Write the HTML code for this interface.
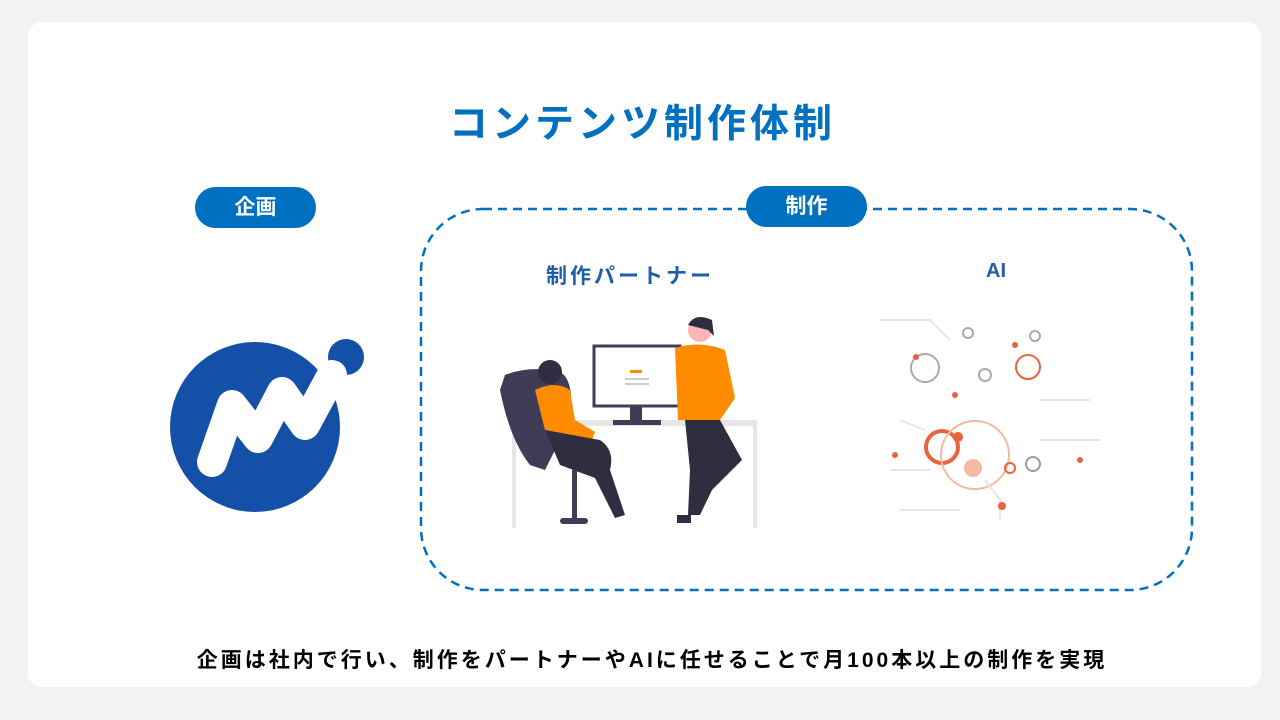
<!DOCTYPE html>
<html><head><meta charset="utf-8"><style>
body{margin:0;width:1280px;height:720px;background:#f2f2f2;font-family:"Liberation Sans","Noto Sans CJK JP",sans-serif;position:relative;overflow:hidden}
.card{position:absolute;left:28px;top:22px;width:1233px;height:665px;background:#fff;border-radius:14px}
.t{position:absolute;white-space:nowrap;font-weight:bold}
.pill{position:absolute;background:#0070c0;color:#fff;border-radius:21px;font-weight:bold;font-size:21px;text-align:center;line-height:41px}
</style></head><body>
<div class="card"></div>
<div class="t" style="left:0;width:1285px;text-align:center;top:93px;font-size:39px;color:#0070c0;letter-spacing:4px">コンテンツ制作体制</div>
<svg style="position:absolute;left:0;top:0" width="1280" height="720">
<rect x="421" y="209" width="771" height="381" rx="62" fill="none" stroke="#0070c0" stroke-width="2.5" stroke-dasharray="9 6"/>
<circle cx="255" cy="427" r="85" fill="#1450a8"/>
<circle cx="346" cy="357" r="18" fill="#1450a8"/>
<path d="M212 462 L232 405 L258 438 L282 392 L305 425 L332 375" fill="none" stroke="#fff" stroke-width="30" stroke-linecap="round" stroke-linejoin="round"/>
<!-- partner illustration -->
<rect x="512" y="420" width="245" height="6" fill="#e6e6e6"/>
<rect x="512" y="420" width="4" height="108" fill="#e6e6e6"/>
<rect x="753" y="420" width="4" height="108" fill="#e6e6e6"/>
<rect x="594" y="346" width="86" height="60" fill="#fff" stroke="#3f3d56" stroke-width="3"/>
<rect x="630" y="370" width="12" height="3" fill="#ff8c00"/>
<rect x="625" y="378" width="24" height="2" fill="#ccc"/><rect x="625" y="383" width="24" height="2" fill="#ccc"/>
<rect x="630" y="406" width="12" height="14" fill="#3f3d56"/><rect x="613" y="420" width="48" height="5" fill="#3f3d56"/>
<path d="M505 375 Q530 365 560 372 Q575 380 570 420 L545 470 L530 465 Q510 440 500 390 Z" fill="#3f3d56"/>
<rect x="572" y="470" width="5" height="48" fill="#3f3d56"/><rect x="560" y="518" width="28" height="6" rx="3" fill="#3f3d56"/>
<path d="M535 390 Q555 380 570 390 L575 420 L595 432 L592 440 L545 430 Z" fill="#ff8c00"/>
<path d="M545 430 L600 440 Q615 450 610 470 L625 515 L615 518 L595 478 L560 465 Z" fill="#2f2e41"/>
<circle cx="550" cy="372" r="12" fill="#2f2e41"/>
<path d="M675 348 Q700 340 725 350 L735 398 L720 420 L678 420 Z" fill="#ff8c00"/>
<path d="M685 420 L720 420 L742 460 L712 490 L700 515 L688 515 L690 470 Z" fill="#2f2e41"/>
<circle cx="700" cy="330" r="12" fill="#ffb6b6"/><path d="M688 325 Q695 312 712 320 L714 336 L708 330 Z" fill="#2f2e41"/>
<rect x="677" y="515" width="14" height="8" fill="#2f2e41"/>
<!-- AI illustration -->
<g fill="none" stroke-width="2">
<circle cx="925" cy="368" r="14" stroke="#aaa"/>
<circle cx="942" cy="447" r="16" stroke="#e8643c" stroke-width="4"/>
<circle cx="975" cy="455" r="34" stroke="#f4b9a0"/>
<circle cx="1028" cy="367" r="12" stroke="#e8643c"/>
<circle cx="1033" cy="464" r="7" stroke="#999"/>
<circle cx="985" cy="375" r="6" stroke="#aaa"/>
<circle cx="1035" cy="336" r="5" stroke="#aaa"/>
<circle cx="968" cy="333" r="5" stroke="#aaa"/>
<circle cx="1010" cy="468" r="5" stroke="#e8643c"/>
<path d="M890 470 L930 470 M985 480 L1000 500 L1000 520 M1040 400 L1090 400 M900 420 L925 430 M880 320 L930 320 L950 340 M1040 440 L1100 440 M900 510 L960 510" stroke="#e6e6e6"/>
</g>
<circle cx="973" cy="468" r="9" fill="#f4b9a0"/>
<circle cx="958" cy="437" r="5" fill="#e8643c"/>
<circle cx="1002" cy="506" r="4" fill="#e8643c"/>
<circle cx="916" cy="357" r="3" fill="#e8643c"/>
<circle cx="1015" cy="345" r="3" fill="#e8643c"/>
<circle cx="1080" cy="460" r="3" fill="#e8643c"/>
<circle cx="895" cy="455" r="3" fill="#e8643c"/>
<circle cx="955" cy="395" r="3" fill="#e8643c"/>
</svg>
<div class="pill" style="left:195px;top:187px;width:121px">企画</div>
<div class="pill" style="left:746px;top:186px;width:121px">制作</div>
<div class="t" style="left:528px;width:204px;text-align:center;top:260px;font-size:21px;color:#1f5fa8;letter-spacing:3px">制作パートナー</div>
<div class="t" style="left:946px;width:100px;text-align:center;top:260px;font-size:20px;color:#1f5fa8">AI</div>
<div class="t" style="left:0;width:1304px;text-align:center;top:644px;font-size:21px;color:#000;letter-spacing:3px">企画は社内で行い、制作をパートナーやAIに任せることで月100本以上の制作を実現</div>
</body></html>
